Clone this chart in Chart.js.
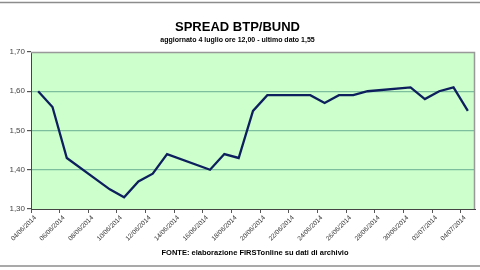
<!DOCTYPE html>
<html><head><meta charset="utf-8">
<script src="https://cdn.jsdelivr.net/npm/chart.js@4"></script>
<style>html,body{margin:0;padding:0;background:#fff}#w{width:480px;height:270px}</style>
</head><body><div id="w"><canvas id="c"></canvas></div>
<script>
const dates = ["04/06/2014","05/06/2014","06/06/2014","07/06/2014","08/06/2014","09/06/2014","10/06/2014","11/06/2014","12/06/2014","13/06/2014","14/06/2014","15/06/2014","16/06/2014","17/06/2014","18/06/2014","19/06/2014","20/06/2014","21/06/2014","22/06/2014","23/06/2014","24/06/2014","25/06/2014","26/06/2014","27/06/2014","28/06/2014","29/06/2014","30/06/2014","01/07/2014","02/07/2014","03/07/2014","04/07/2014"];
const spread = [1.60,1.56,1.43,null,null,1.35,1.33,1.37,1.39,1.44,null,null,1.40,1.44,1.43,1.55,1.59,null,null,1.59,1.57,1.59,1.59,1.60,null,null,1.61,1.58,1.60,1.61,1.55];
const yTicks = [1.30,1.40,1.50,1.60,1.70];
const titleText = "SPREAD BTP/BUND";
const subtitleText = "aggiornato 4 luglio ore 12,00 - ultimo dato 1,55";
const sourceText = "FONTE: elaborazione FIRSTonline su dati di archivio";

const frame = {
  id:'frame',
  beforeDraw(chart){
    const {ctx, chartArea:a} = chart;
    ctx.save();
    ctx.fillStyle = '#CCFFCC';
    ctx.fillRect(a.left, a.top, a.right-a.left, a.bottom-a.top);
    ctx.restore();
  },
  afterDraw(chart){
    const {ctx, chartArea:a, width, height} = chart;
    ctx.save();
    ctx.strokeStyle = '#999999';
    ctx.lineWidth = 1.5;
    ctx.beginPath();
    ctx.moveTo(a.left, a.top+0.5); ctx.lineTo(a.right-0.5, a.top+0.5); ctx.lineTo(a.right-0.5, a.bottom);
    ctx.stroke();
    ctx.strokeStyle = '#8c8c8c';
    ctx.lineWidth = 1.5;
    ctx.beginPath(); ctx.moveTo(0,2.5); ctx.lineTo(width,2.5); ctx.stroke();
    ctx.beginPath(); ctx.moveTo(0,266); ctx.lineTo(width,266); ctx.stroke();
    ctx.fillStyle = '#000';
    ctx.font = 'bold 7.5px "Liberation Sans", Arial, sans-serif';
    ctx.textAlign = 'center';
    ctx.textBaseline = 'middle';
    ctx.fillText(sourceText, 255, 253);
    ctx.restore();
  }
};

new Chart(document.getElementById('c'), {
  type:'line',
  data:{labels:dates, datasets:[{data:spread, borderColor:'#0E1F5E', borderWidth:2.3, pointRadius:0, tension:0, spanGaps:true, fill:false}]},
  options:{
    responsive:true, maintainAspectRatio:false, animation:false,
    layout:{padding:{left:0,right:5,top:0,bottom:0}},
    plugins:{
      legend:{display:false}, tooltip:{enabled:false},
      title:{display:true, text:titleText, color:'#000', font:{family:'"Liberation Sans", Arial, sans-serif', size:13, weight:'bold', lineHeight:1.2}, padding:{top:20,bottom:0}},
      subtitle:{display:true, text:subtitleText, color:'#000', font:{family:'"Liberation Sans", Arial, sans-serif', size:7, weight:'bold', lineHeight:1.2}, padding:{top:0,bottom:8}}
    },
    scales:{
      x:{
        afterFit(s){ s.height = 61; },
        offset:true,
        grid:{offset:true, drawOnChartArea:false, tickLength:4, tickColor:(c)=> (c.index%2===0 ? '#555' : 'rgba(0,0,0,0)')},
        border:{color:'#444', width:1},
        ticks:{autoSkip:false, minRotation:45, maxRotation:45, labelOffset:-3, padding:1, color:'#333', font:{family:'"Liberation Sans", Arial, sans-serif', size:6.5},
          callback(v,i){ return i%2===0 ? dates[i] : ''; }}
      },
      y:{
        afterFit(s){ s.width = 31; },
        min:1.30, max:1.70,
        afterBuildTicks(s){ s.ticks = yTicks.map(v=>({value:v})); },
        grid:{color:(c)=> (c.tick && (c.tick.value===1.3 || Math.abs(c.tick.value-1.7)<1e-6) ? 'rgba(0,0,0,0)' : '#7DBE9E'), lineWidth:1.2, tickLength:4, tickColor:'#555'},
        border:{color:'#444', width:1},
        ticks:{padding:2, color:'#444', font:{family:'"Liberation Sans", Arial, sans-serif', size:8},
          callback(v){ return Number(v).toFixed(2).replace('.',','); }}
      }
    }
  },
  plugins:[frame]
});
</script></body></html>
